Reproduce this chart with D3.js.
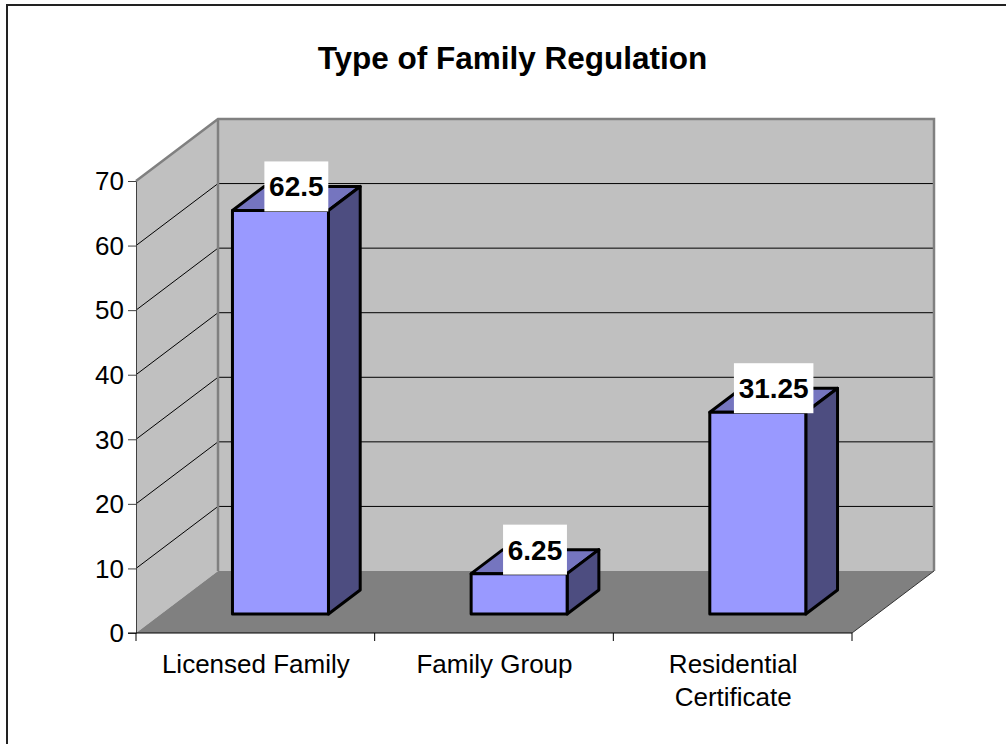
<!DOCTYPE html>
<html><head><meta charset="utf-8">
<script src="https://cdn.jsdelivr.net/npm/d3@7"></script>
<style>html,body{margin:0;padding:0;background:#fff}svg{display:block}text{font-family:"Liberation Sans",Arial,sans-serif;fill:#000}</style>
</head><body><svg id="c" width="1006" height="744"></svg>
<script>
const categories = ["Licensed Family", "Family Group", "Residential Certificate"];
const categoryLines = [["Licensed Family"], ["Family Group"], ["Residential", "Certificate"]];
const values = [62.5, 6.25, 31.25];
const labels = ["62.5", "6.25", "31.25"];
const yTicks = [0, 10, 20, 30, 40, 50, 60, 70];
const title = "Type of Family Regulation";

const svg = d3.select("#c");
const x = d3.scaleBand().domain(categories).range([136, 852]);
const y = d3.scaleLinear().domain([0, 70]).range([633, 181]);
const depth = {dx: 82, dy: -62};
const barFrac = 19 / 62;
const barDepthFrac = 24 / 62;
const barW = 96;
const line = d3.line();

// frame: only the top and left edges fall inside the picture
svg.append("path").attr("fill", "none").attr("stroke", "#222").attr("stroke-width", 2)
  .attr("d", line([[7, 744], [7, 5], [1006, 5]]));

svg.append("text").attr("x", 512.5).attr("y", 69).attr("text-anchor", "middle")
  .attr("font-size", 31.5).attr("font-weight", "bold").text(title);

const x0 = x.range()[0], x1 = x.range()[1], y0 = y(0), yT = y(70);
// walls
svg.append("path").attr("fill", "#c0c0c0").attr("d", line([[x0 + depth.dx, yT + depth.dy], [x1 + depth.dx, yT + depth.dy], [x1 + depth.dx, y0 + depth.dy], [x0 + depth.dx, y0 + depth.dy]]) + "Z");
svg.append("path").attr("fill", "#c0c0c0").attr("d", line([[x0, yT], [x0 + depth.dx, yT + depth.dy], [x0 + depth.dx, y0 + depth.dy], [x0, y0]]) + "Z");
// floor
svg.append("path").attr("fill", "#808080").attr("d", line([[x0, y0], [x0 + depth.dx, y0 + depth.dy], [x1 + depth.dx, y0 + depth.dy], [x1, y0]]) + "Z");
// gridlines
yTicks.filter(t => t > 0 && t < 70).forEach(t => {
  svg.append("path").attr("fill", "none").attr("stroke", "#000").attr("stroke-width", 1)
    .attr("d", line([[x0, y(t)], [x0 + depth.dx, y(t) + depth.dy], [x1 + depth.dx, y(t) + depth.dy]]));
});
// wall borders
svg.append("path").attr("fill", "none").attr("stroke", "#808080").attr("stroke-width", 2.5)
  .attr("d", line([[x0, yT], [x0 + depth.dx, yT + depth.dy], [x1 + depth.dx, yT + depth.dy], [x1 + depth.dx, y0 + depth.dy]]));
svg.append("path").attr("fill", "none").attr("stroke", "#808080").attr("stroke-width", 2.5)
  .attr("d", line([[x0 + depth.dx, yT + depth.dy], [x0 + depth.dx, y0 + depth.dy]]));
svg.append("path").attr("fill", "none").attr("stroke", "#333").attr("stroke-width", 1)
  .attr("d", line([[x1 + depth.dx, y0 + depth.dy], [x1, y0]]));

// axes
const yAxis = d3.axisLeft(y).tickValues(yTicks).tickSize(8).tickPadding(4).tickSizeOuter(0);
const yG = svg.append("g").attr("transform", `translate(${x0},0)`).call(yAxis);
yG.select(".domain").attr("stroke", "#404040").attr("stroke-width", 1);
yG.selectAll("line").attr("stroke", "#404040");
yG.selectAll("text").attr("font-size", 26).attr("font-family", '"Liberation Sans"').attr("fill", "#000").attr("dy", "0.34em");

svg.append("path").attr("stroke", "#000").attr("fill", "none").attr("d", line([[x0 - 8, y0], [x1, y0]]));
const edges = [0, 1, 2, 3].map(i => x0 + i * x.step());
svg.selectAll(".xt").data(edges).join("line").attr("class", "xt")
  .attr("x1", d => d).attr("x2", d => d).attr("y1", y0).attr("y2", y0 + 8).attr("stroke", "#000");

categories.forEach((c, i) => {
  const t = svg.append("text").attr("text-anchor", "middle").attr("font-size", 26)
    .attr("transform", `translate(${x(c) + x.bandwidth() / 2 + 0.5},0)`);
  categoryLines[i].forEach((l, j) => t.append("tspan").attr("x", 0).attr("y", 673 + j * 33).text(l));
});

// bars
const off = {dx: depth.dx * barFrac, dy: depth.dy * barFrac};
const bd = {dx: depth.dx * barDepthFrac, dy: depth.dy * barDepthFrac};
categories.forEach((c, i) => {
  const l = x(c) + (x.bandwidth() - barW) / 2 + off.dx;
  const r = l + barW;
  const b = y0 + off.dy;
  const t = y(values[i]) + off.dy;
  const g = svg.append("g").attr("stroke", "#000").attr("stroke-width", 3).attr("stroke-linejoin", "round");
  g.append("path").attr("fill", "#7575bf").attr("d", line([[l, t], [l + bd.dx, t + bd.dy], [r + bd.dx, t + bd.dy], [r, t]]) + "Z");
  g.append("path").attr("fill", "#4d4d80").attr("d", line([[r, t], [r + bd.dx, t + bd.dy], [r + bd.dx, b + bd.dy], [r, b]]) + "Z");
  g.append("rect").attr("fill", "#9999ff").attr("x", l).attr("y", t).attr("width", barW).attr("height", b - t);
});
// value labels
categories.forEach((c, i) => {
  const l = x(c) + (x.bandwidth() - barW) / 2 + off.dx;
  const t = y(values[i]) + off.dy;
  const cx = l + barW / 2 + bd.dx / 2;
  const txt = svg.append("text").attr("text-anchor", "middle").attr("font-size", 28).attr("font-weight", "bold")
    .attr("x", cx).attr("y", t - 14).text(labels[i]);
  const w = txt.node().getComputedTextLength();
  svg.insert("rect", () => txt.node()).attr("x", cx - w / 2 - 4.7).attr("y", t - 49).attr("width", w + 9.4).attr("height", 50).attr("fill", "#fff");
});
</script></body></html>
